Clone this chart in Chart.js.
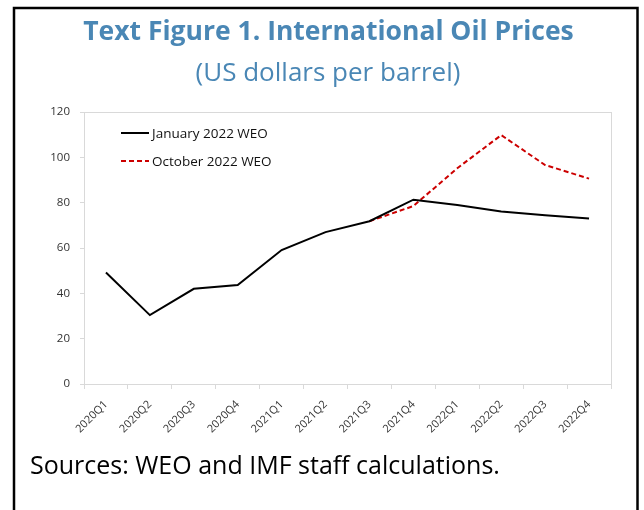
<!DOCTYPE html>
<html>
<head>
<meta charset="utf-8">
<script src="https://cdn.jsdelivr.net/npm/chart.js@4.4.1/dist/chart.umd.min.js"></script>
<style>
html,body{margin:0;padding:0;background:#fff;}
#wrap{position:relative;width:644px;height:510px;}
</style>
</head>
<body>
<div id="wrap"><canvas id="c" width="644" height="510"></canvas></div>
<script>
const categories = ['2020Q1','2020Q2','2020Q3','2020Q4','2021Q1','2021Q2','2021Q3','2021Q4','2022Q1','2022Q2','2022Q3','2022Q4'];
const january2022 = [49.2, 30.4, 42.0, 43.7, 59.1, 67.0, 71.8, 81.3, 79.0, 76.1, 74.4, 73.0];
const october2022 = [null, null, null, null, null, null, 71.8, 78.5, 95.2, 109.8, 96.6, 90.6];
const seriesLabels = ['January 2022 WEO', 'October 2022 WEO'];
const yTicks = [0, 20, 40, 60, 80, 100, 120];
const titleText = 'Text Figure 1. International Oil Prices';
const subtitleText = '(US dollars per barrel)';
const sourceText = 'Sources: WEO and IMF staff calculations.';

const FONT = '"Open Sans", "Noto Sans", sans-serif';

const decor = {
  id: 'decor',
  afterDraw(chart) {
    const ctx = chart.ctx;
    const a = chart.chartArea;
    ctx.save();
    // plot border
    ctx.strokeStyle = '#d9d9d9';
    ctx.lineWidth = 1;
    ctx.strokeRect(Math.round(a.left) + 0.5, Math.round(a.top) + 0.5, Math.round(a.right - a.left), Math.round(a.bottom - a.top));
    // outer frame
    ctx.strokeStyle = '#000';
    ctx.lineWidth = 2.5;
    ctx.strokeRect(14, 8, 623.5, 540);
    // titles
    ctx.fillStyle = '#4a87b5';
    ctx.textAlign = 'center';
    ctx.textBaseline = 'alphabetic';
    ctx.font = 'bold 26.5px ' + FONT;
    ctx.fillText(titleText, 328.5, 40);
    ctx.font = '26px ' + FONT;
    ctx.fillText(subtitleText, 328, 81);
    // sources
    ctx.fillStyle = '#000';
    ctx.textAlign = 'left';
    ctx.font = '25px ' + FONT;
    ctx.fillText(sourceText, 30, 474);
    // legend
    const ds = chart.data.datasets;
    const rows = [133, 161];
    ctx.font = '13.5px ' + FONT;
    ctx.textBaseline = 'middle';
    ds.forEach((d, i) => {
      const y = rows[i];
      ctx.strokeStyle = d.borderColor;
      ctx.lineWidth = 2;
      ctx.setLineDash(d.borderDash || []);
      ctx.beginPath();
      ctx.moveTo(121, y);
      ctx.lineTo(149, y);
      ctx.stroke();
      ctx.setLineDash([]);
      ctx.fillStyle = '#111';
      ctx.fillText(d.label, 152, y + 1);
    });
    ctx.restore();
  }
};

new Chart(document.getElementById('c'), {
  type: 'line',
  data: {
    labels: categories,
    datasets: [
      { label: seriesLabels[0], data: january2022, borderColor: '#000000', borderWidth: 2, pointRadius: 0, tension: 0, fill: false },
      { label: seriesLabels[1], data: october2022, borderColor: '#cc0000', borderWidth: 2, borderDash: [5, 3], pointRadius: 0, tension: 0, fill: false, spanGaps: false }
    ]
  },
  options: {
    responsive: false,
    animation: false,
    layout: { padding: { left: 14, top: 112, right: 33, bottom: 66 } },
    plugins: { legend: { display: false }, title: { display: false }, tooltip: { enabled: false } },
    scales: {
      x: {
        offset: true,
        grid: { offset: true, drawOnChartArea: false, drawTicks: true, tickLength: 5, color: '#d9d9d9' },
        border: { color: '#d9d9d9' },
        ticks: { color: '#333333', font: { family: FONT, size: 11 }, maxRotation: 45, minRotation: 45, padding: 9 },
        afterFit(s) { s.height = 60; }
      },
      y: {
        min: 0, max: 120,
        afterBuildTicks(s) { s.ticks = yTicks.map(v => ({ value: v })); },
        grid: { drawOnChartArea: false, drawTicks: true, tickLength: 4, color: '#d9d9d9' },
        border: { color: '#d9d9d9' },
        ticks: { color: '#333', font: { family: FONT, size: 11.5 }, padding: 10 },
        afterFit(s) { s.width = 70; }
      }
    }
  },
  plugins: [decor]
});
</script>
</body>
</html>
